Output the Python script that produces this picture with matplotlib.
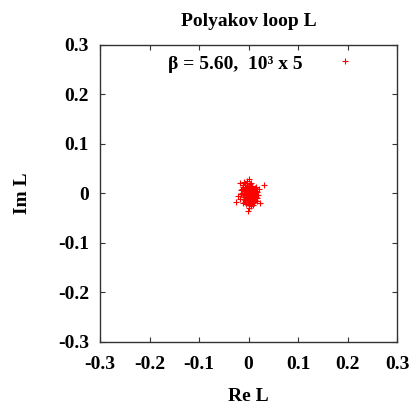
import numpy as np
import matplotlib.pyplot as plt

plt.rcParams['font.family'] = ['Liberation Serif', 'DejaVu Serif']
plt.rcParams['font.weight'] = 'bold'

# Polyakov loop samples (Re L, Im L)
re_l = [0.001, 0.032, -0.021, -0.025, -0.002, 0.023, 0.020, -0.017, -0.007,
        -0.012, -0.005, 0.003, 0.008, -0.009, -0.003, 0.002, 0.006, 0.011,
        -0.014, -0.006, 0.000, 0.004, 0.009, 0.014, -0.010, -0.004, 0.001,
        0.006, 0.012, -0.008, -0.002, 0.003, 0.008, -0.005, 0.000, 0.005,
        -0.012, -0.016, -0.011, -0.004, 0.002, 0.007, 0.012, 0.015, 0.017,
        0.010, -0.001, 0.004, -0.007, -0.001, 0.007, 0.013, -0.009, -0.003,
        0.002, 0.005, -0.002, 0.010, -0.013, -0.006, 0.000, 0.005, -0.010,
        -0.018, 0.016, -0.007, 0.001, 0.009, 0.018, -0.015, -0.001, 0.003,
        0.008, -0.005, 0.000, 0.011, -0.008, 0.014, -0.003, 0.006, -0.011,
        0.022, 0.195]
im_l = [0.029, 0.016, -0.006, -0.018, -0.035, -0.020, -0.003, 0.021, 0.017,
        0.012, 0.010, 0.012, 0.008, 0.005, 0.004, 0.002, 0.003, 0.001,
        0.000, -0.001, -0.002, -0.004, -0.006, -0.008, -0.007, -0.009, -0.011,
        -0.013, -0.014, -0.014, -0.017, -0.019, -0.020, -0.022, -0.024, -0.026,
        -0.004, 0.006, 0.016, 0.020, 0.018, 0.014, 0.010, 0.004, -0.010,
        -0.017, 0.007, 0.008, 0.001, -0.006, -0.009, -0.002, -0.011, -0.013,
        -0.007, 0.000, 0.001, 0.005, 0.008, 0.013, 0.014, 0.022, 0.024,
        -0.012, -0.016, -0.018, -0.029, -0.024, 0.002, -0.002, 0.011, 0.005,
        -0.002, -0.004, -0.015, -0.011, 0.009, 0.012, 0.025, -0.017, -0.020,
        0.008, 0.268]

ticks = [-0.3, -0.2, -0.1, 0, 0.1, 0.2, 0.3]
tick_labels = ['-0.3', '-0.2', '-0.1', '0', '0.1', '0.2', '0.3']

fig = plt.figure(figsize=(4.15, 4.05), dpi=100)
ax = fig.add_axes([0.241, 0.156, 0.716, 0.733])

ax.plot(re_l, im_l, linestyle='none', marker='+', color='#ff0000',
        markersize=4, markeredgewidth=0.8)

ax.set_xlim(-0.3, 0.3)
ax.set_ylim(-0.3, 0.3)
ax.set_xticks(ticks)
ax.set_yticks(ticks)
ax.set_xticklabels(tick_labels)
ax.set_yticklabels(tick_labels)
ax.tick_params(direction='in', length=3.5, width=0.8, top=True, right=True,
               labelsize=14, color='#333333')
ax.tick_params(axis='x', pad=10)
ax.tick_params(axis='y', pad=8)
for s in ax.spines.values():
    s.set_linewidth(1.0)
    s.set_color('#333333')

ax.set_title('Polyakov loop L', fontsize=14, fontweight='bold', pad=14)
ax.set_xlabel('Re L', fontsize=14, fontweight='bold', labelpad=11)
ax.set_ylabel('Im L', fontsize=14, fontweight='bold', labelpad=19)

ax.text(-0.027, 0.26, 'β = 5.60,  10³ x 5', ha='center', va='center',
        fontsize=14, fontweight='bold')

fig.savefig('out.png', dpi=100)
